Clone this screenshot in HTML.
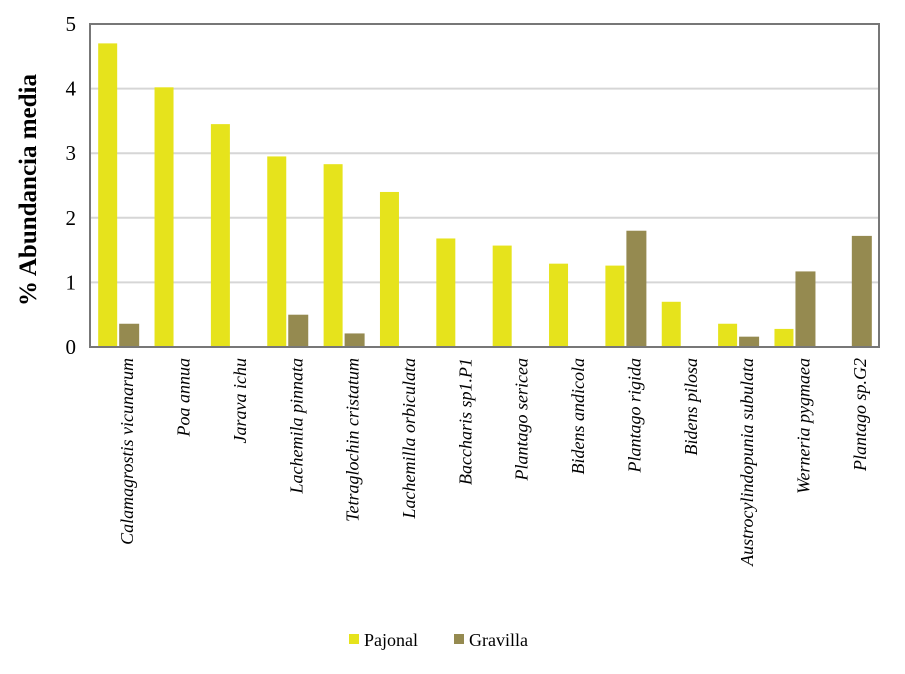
<!DOCTYPE html>
<html><head><meta charset="utf-8"><style>
body{margin:0;background:#fff}
svg text{font-family:"Liberation Serif",serif}
</style></head><body>
<svg width="905" height="669">
<g id="grid"></g><g id="bars"></g><g id="xlabels"></g><g id="ylabels"></g>
<rect x="90" y="24" width="789" height="323" fill="none" stroke="#777" stroke-width="2"/>
<text x="0" y="0" transform="translate(36,190) rotate(-90)" text-anchor="middle" font-size="25" font-weight="bold">% Abundancia media</text>
<g>
<rect x="349" y="634" width="10" height="10" fill="#e6e31c"/>
<text x="364" y="646" font-size="18">Pajonal</text>
<rect x="454" y="634" width="10" height="10" fill="#958a50"/>
<text x="469" y="646" font-size="18">Gravilla</text>
</g>
</svg>
<script>
const categories=["Calamagrostis vicunarum","Poa annua","Jarava ichu","Lachemila pinnata","Tetraglochin cristatum","Lachemilla orbiculata","Baccharis sp1.P1","Plantago sericea","Bidens andicola","Plantago rigida","Bidens pilosa","Austrocylindopunia subulata","Werneria pygmaea","Plantago sp.G2"];
const pajonal=[4.7,4.02,3.45,2.95,2.83,2.4,1.68,1.57,1.29,1.26,0.7,0.36,0.28,0];
const gravilla=[0.36,0,0,0.5,0.21,0,0,0,0,1.8,0,0.16,1.17,1.72];
const yTicks=[0,1,2,3,4,5];
const NS="http://www.w3.org/2000/svg";
const L=90,R=879,T=24,B=347,YMAX=5;
const y=v=>B-(v/YMAX)*(B-T);
const bw=(R-L)/categories.length;
const xc=i=>L+bw*(i+0.5);
function mk(tag,attrs,parent){const e=document.createElementNS(NS,tag);for(const k in attrs)e.setAttribute(k,attrs[k]);document.getElementById(parent).appendChild(e);return e;}
yTicks.forEach(t=>{
  if(t>0&&t<YMAX){const g=mk('line',{x1:L,x2:R,y1:y(t),y2:y(t),stroke:'#d6d6d6','stroke-width':2},'grid');
  
  }
  const tx=mk('text',{x:76,y:y(t)+7,'text-anchor':'end','font-size':21},'ylabels');
  tx.textContent=t;
  
  
});
categories.forEach((c,i)=>{
  const cx=xc(i);
  if(pajonal[i]>0){const r=mk('rect',{x:cx-20,y:y(pajonal[i]),width:19,height:B-y(pajonal[i]),fill:'#e6e31c'},'bars');
  
  }
  if(gravilla[i]>0){const r=mk('rect',{x:cx+1,y:y(gravilla[i]),width:20,height:B-y(gravilla[i]),fill:'#958a50'},'bars');
  
  }
  const t=mk('text',{transform:`translate(${cx+15},358) rotate(-90)`,'text-anchor':'end','font-size':18,'font-style':'italic'},'xlabels');
  t.textContent=c;
  
  
});
</script>
</body></html>
